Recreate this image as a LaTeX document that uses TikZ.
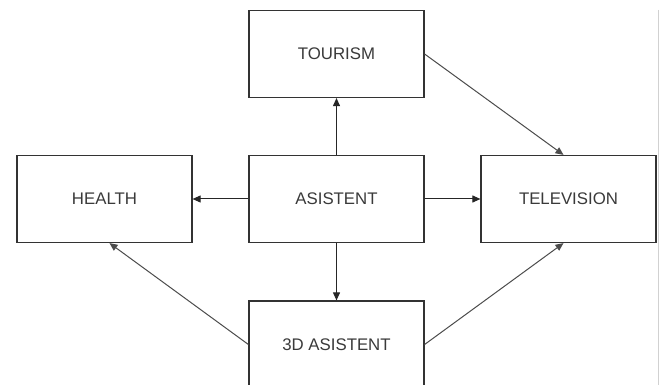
\documentclass[tikz,border=0pt]{standalone}
\usepackage{fontspec}
\setmainfont{Liberation Sans}
\usetikzlibrary{arrows.meta}
\definecolor{boxline}{HTML}{333333}
\definecolor{boxtext}{HTML}{3A3A3A}
\tikzset{
	block/.style={draw=boxline, line width=1.2pt, minimum width=175pt, minimum height=87pt, inner sep=0pt, text=boxtext, font=\fontsize{16.8}{19}\selectfont},
	link/.style={draw=black!85, line width=1pt, -{Triangle[length=8pt,width=7pt]}},
	slant/.style={link, draw=black!70}
}
\begin{document}
\begin{tikzpicture}[x=1pt,y=-1pt]
		\useasboundingbox (0,0) rectangle (662,385);
		\fill[white] (0,0) rectangle (662,385);
		\draw[black!18, line width=1pt] (658,10) -- (658,385);
		\node[block] (tourism) at (336.5,54) {TOURISM};
		\node[block] (health) at (104.5,199) {HEALTH};
		\node[block] (asistent) at (336.5,199) {ASISTENT};
		\node[block] (television) at (568.5,199) {TELEVISION};
		\node[block] (asistent3d) at (336.5,344.5) {3D ASISTENT};
		\draw[link] (asistent) -- (tourism);
		\draw[link] (asistent) -- (health);
		\draw[link] (asistent) -- (television);
		\draw[link] (asistent) -- (asistent3d);
		\draw[slant] (tourism.east) -- ([xshift=-5pt]television.north);
		\draw[slant] (asistent3d.west) -- ([xshift=5pt]health.south);
		\draw[slant] (asistent3d.east) -- ([xshift=-5pt]television.south);
	\end{tikzpicture}
\end{document}
